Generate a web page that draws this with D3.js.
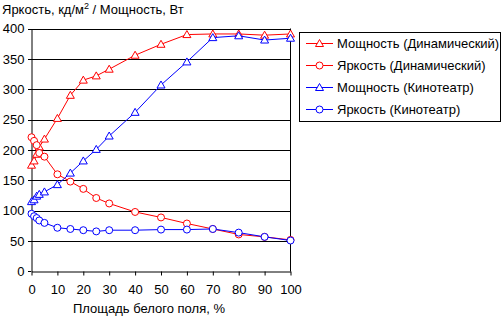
<!DOCTYPE html>
<html><head><meta charset="utf-8">
<script src="https://cdn.jsdelivr.net/npm/d3@7"></script>
<style>
body{margin:0;background:#fff;}
svg{display:block;font-family:Arial,"Liberation Sans",sans-serif;}
</style></head>
<body><svg id="c" width="502" height="317"></svg>
<script>
const xValues = [0,1,2,3,5,10,15,20,25,30,40,50,60,70,80,90,100];
const powerDyn  = [175,182,193,205,218,252,290,315,322,333,356,374,390,391,391,389,391];
const brightDyn = [221,215,208,195,189,160,148,136,121,112,98,89,79,70,61,57,52];
const powerCin  = [115,118,124,127,131,143,162,182,201,223,262,307,345,385,388,381,384];
const brightCin = [95,91,88,84,80,72,70,68,66,68,68,69,69,70,64,57,51];
const yTicks = [0,50,100,150,200,250,300,350,400];
const xTicks = [0,10,20,30,40,50,60,70,80,90,100];
const seriesNames = ["Мощность (Динамический)","Яркость (Динамический)","Мощность (Кинотеатр)","Яркость (Кинотеатр)"];
const seriesColors = ["#ff0000","#ff0000","#0000ff","#0000ff"];
const seriesMarkers = ["triangle","circle","triangle","circle"];
const seriesData = [powerDyn, brightDyn, powerCin, brightCin];

const svg = d3.select("#c");
const x = d3.scaleLinear().domain([0,100]).range([31.5,290.5]);
const y = d3.scaleLinear().domain([0,400]).range([271.5,28.5]);

// gridlines
svg.append("g").selectAll("line").data(yTicks.filter(d=>d>0)).join("line")
  .attr("x1",28).attr("x2",291).attr("y1",d=>Math.round(y(d))+0.5).attr("y2",d=>Math.round(y(d))+0.5)
  .attr("stroke","#000").attr("stroke-width",1);
// y tick marks at 0
svg.append("line").attr("x1",28).attr("x2",31).attr("y1",271.5).attr("y2",271.5).attr("stroke","#000");
// right border
svg.append("line").attr("x1",290.5).attr("x2",290.5).attr("y1",28.5).attr("y2",271.5).attr("stroke","#000");

// axes
const xAxis = d3.axisBottom(x).tickValues(xTicks).tickSize(4).tickSizeOuter(0).tickPadding(9);
const gx = svg.append("g").attr("transform","translate(0,271.5)").call(xAxis);
gx.select(".domain").attr("stroke","#000");
gx.selectAll("text").attr("font-size","13px").attr("fill","#000").attr("font-family","Arial,'Liberation Sans',sans-serif");
const yAxis = d3.axisLeft(y).tickValues(yTicks).tickSize(0).tickSizeOuter(0).tickPadding(7);
const gy = svg.append("g").attr("transform","translate(31.5,0)").call(yAxis);
gy.select(".domain").attr("stroke","#000");
gy.selectAll("text").attr("font-size","13px").attr("fill","#000").attr("font-family","Arial,'Liberation Sans',sans-serif");

function marker(g, type, color, cx, cy){
  if(type==="circle"){
    g.append("circle").attr("cx",cx).attr("cy",cy).attr("r",3.5)
      .attr("fill","#fff").attr("stroke",color).attr("stroke-width",1);
  } else {
    g.append("path").attr("d",`M${cx},${cy-4}L${cx+4},${cy+3}L${cx-4},${cy+3}Z`)
      .attr("fill","#fff").attr("stroke",color).attr("stroke-width",1);
  }
}

const line = d3.line().x((d,i)=>x(xValues[i])).y(d=>y(d));
seriesData.forEach((data,si)=>{
  const g = svg.append("g");
  g.append("path").datum(data).attr("d",line).attr("fill","none")
    .attr("stroke",seriesColors[si]).attr("stroke-width",1);
  data.forEach((v,i)=>marker(g, seriesMarkers[si], seriesColors[si], x(xValues[i]), y(v)));
});

// titles
const yt = svg.append("text").attr("x",2).attr("y",14).attr("font-size","13px").attr("fill","#000");
yt.append("tspan").text("Яркость, кд/м");
yt.append("tspan").attr("font-size","9px").attr("dy",-5).text("2");
yt.append("tspan").attr("dy",5).text(" / Мощность, Вт");
svg.append("text").attr("x",149).attr("y",313).attr("text-anchor","middle")
  .attr("font-size","13px").attr("fill","#000").text("Площадь белого поля, %");

// legend
const lg = svg.append("g");
lg.append("rect").attr("x",299.5).attr("y",32.5).attr("width",201).attr("height",89)
  .attr("fill","#fff").attr("stroke","#000");
seriesNames.forEach((n,i)=>{
  const yy = 43.5 + i*22;
  lg.append("line").attr("x1",306).attr("x2",333).attr("y1",yy).attr("y2",yy)
    .attr("stroke",seriesColors[i]);
  marker(lg, seriesMarkers[i], seriesColors[i], 319.5, yy);
  lg.append("text").attr("x",337).attr("y",yy+4.5).attr("font-size","13px").attr("fill","#000").text(n);
});
</script></body></html>
